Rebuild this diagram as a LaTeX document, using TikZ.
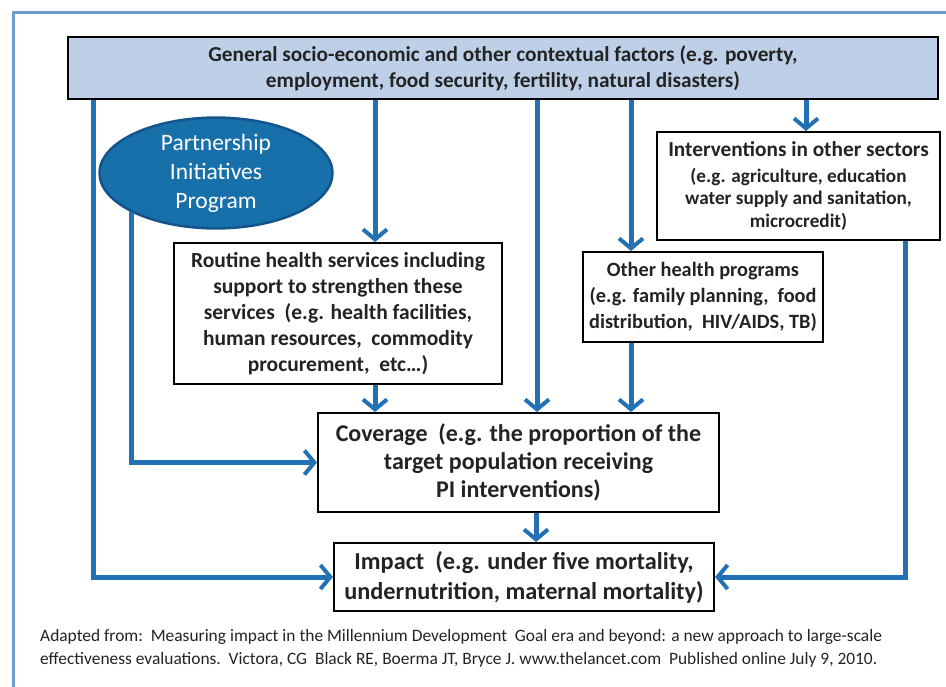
\documentclass[tikz,border=0pt]{standalone}
\usepackage{fontspec}
\setmainfont{Carlito}
\usepackage{tikz}
\usetikzlibrary{arrows.meta,shapes.geometric}

\definecolor{frameblue}{RGB}{110,158,206}
\definecolor{topfill}{RGB}{190,208,232}
\definecolor{linkblue}{RGB}{35,113,181}
\definecolor{pipfill}{RGB}{24,112,170}
\definecolor{pipedge}{RGB}{20,84,140}
\definecolor{boxtext}{RGB}{35,35,35}

\begin{document}
\begin{tikzpicture}[x=1pt,y=-1pt,
    box/.style={draw=black,line width=2pt,fill=white,text=boxtext,align=center,inner sep=0pt},
    link/.style={draw=linkblue,line width=5pt,-{Straight Barb[length=10pt,width=24pt,line width=4pt]}}]

\useasboundingbox (0,0) rectangle (946,687);
\draw[frameblue,line width=3pt] (13,687) -- (13,13) -- (946,13);

\node[box,fill=topfill,line width=2.5pt,minimum width=870pt,minimum height=62pt,
      font=\bfseries\fontsize{21.3}{26}\selectfont] (top) at (503,68)
    {General socio-economic and other contextual factors (e.g. poverty,\\employment, food security, fertility, natural disasters)};

\node[ellipse,draw=pipedge,line width=2.5pt,fill=pipfill,text=white,align=center,inner sep=0pt,
      minimum width=233pt,minimum height=99pt,font=\fontsize{23.5}{29}\selectfont] (pip) at (216,173)
    {Partnership\\Initiatives\\Program};

\node[box,minimum width=283pt,minimum height=108pt,font=\bfseries\fontsize{19.2}{22.5}\selectfont] (other) at (798.5,186)
    {{\fontsize{21.3}{22}\selectfont Interventions in other sectors}\\[3pt](e.g. agriculture, education\\water supply and sanitation,\\microcredit)};

\node[box,minimum width=328pt,minimum height=141pt,font=\bfseries\fontsize{21.5}{26}\selectfont] (routine) at (338,313.5)
    {Routine health services including\\support to strengthen these\\services\ \ (e.g. health facilities,\\human resources,\ \ commodity\\procurement,\ \ etc\dots)};

\node[box,minimum width=240pt,minimum height=90pt,font=\bfseries\fontsize{20.3}{26}\selectfont] (health) at (703,297)
    {Other health programs\\(e.g. family planning,\ \ food\\distribution,\ \ HIV/AIDS, TB)};

\node[box,minimum width=401pt,minimum height=99pt,font=\bfseries\fontsize{24}{28}\selectfont] (coverage) at (518.5,462.5)
    {Coverage\ \ (e.g. the proportion of the\\target population receiving\\PI interventions)};

\node[box,minimum width=380pt,minimum height=68pt,font=\bfseries\fontsize{24.3}{30}\selectfont] (impact) at (524,577)
    {Impact\ \ (e.g. under five mortality,\\undernutrition, maternal mortality)};

\node[anchor=west,align=left,inner sep=0pt,text=boxtext,font=\fontsize{17.4}{23}\selectfont] (src) at (40,648.5)
    {Adapted from:\ \ Measuring impact in the Millennium Development\ \ Goal era and beyond: a new approach to large-scale\\
     effectiveness evaluations.\ \ Victora, CG\ \ Black RE, Boerma JT, Bryce J. www.thelancet.com\ \ Published online July 9, 2010.};

\coordinate (xl) at (93,0);
\coordinate (xr) at (375,0);
\coordinate (xm) at (537,0);
\coordinate (xh) at (631,0);
\coordinate (xo) at (806,0);
\coordinate (xe) at (905,0);
\coordinate (xc) at (536,0);

\draw[link] (top.south -| xl) |- (impact.west);
\draw[link] (pip.205) |- (coverage.west);
\draw[link] (top.south -| xr) -- (routine.north -| xr);
\draw[link] (routine.south -| xr) -- (coverage.north -| xr);
\draw[link] (top.south -| xm) -- (coverage.north -| xm);
\draw[link] (top.south -| xh) -- (health.north -| xh);
\draw[link] (health.south -| xh) -- (coverage.north -| xh);
\draw[link] (top.south -| xo) -- (other.north -| xo);
\draw[link] (other.south -| xe) |- (impact.east);
\draw[link] (coverage.south -| xc) -- (impact.north -| xc);

\end{tikzpicture}
\end{document}
